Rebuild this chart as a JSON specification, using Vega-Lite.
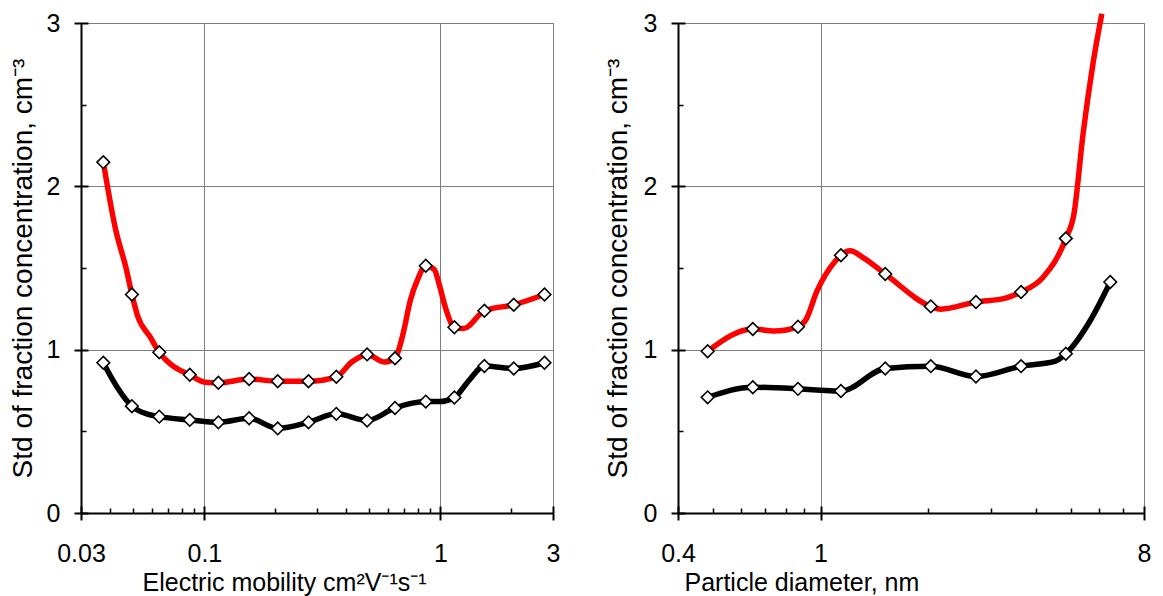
{
  "$schema": "https://vega.github.io/schema/vega-lite/v6.json",
  "padding": {"left": 8, "top": 2, "right": 5, "bottom": 0},
  "spacing": 42,
  "config": {
    "view": {"stroke": "#7f7f7f", "strokeWidth": 1},
    "font": "Liberation Sans",
    "axis": {"labelFont": "Liberation Sans", "titleFont": "Liberation Sans", "labelColor": "black", "titleColor": "black", "titleFontWeight": "normal", "tickColor": "black", "domainColor": "black"}
  },
  "datasets": {
    "L": [
      {"x": 0.0373, "y": 2.148, "s": "red", "m": 1},
      {"x": 0.042, "y": 1.739, "s": "red", "m": 0},
      {"x": 0.0467, "y": 1.492, "s": "red", "m": 0},
      {"x": 0.0493, "y": 1.338, "s": "red", "m": 1},
      {"x": 0.052, "y": 1.211, "s": "red", "m": 0},
      {"x": 0.0589, "y": 1.078, "s": "red", "m": 0},
      {"x": 0.0644, "y": 0.984, "s": "red", "m": 1},
      {"x": 0.073, "y": 0.904, "s": "red", "m": 0},
      {"x": 0.0867, "y": 0.846, "s": "red", "m": 1},
      {"x": 0.1007, "y": 0.801, "s": "red", "m": 0},
      {"x": 0.1146, "y": 0.797, "s": "red", "m": 1},
      {"x": 0.1547, "y": 0.82, "s": "red", "m": 1},
      {"x": 0.2045, "y": 0.807, "s": "red", "m": 1},
      {"x": 0.2761, "y": 0.807, "s": "red", "m": 1},
      {"x": 0.3623, "y": 0.834, "s": "red", "m": 1},
      {"x": 0.421, "y": 0.924, "s": "red", "m": 0},
      {"x": 0.4892, "y": 0.971, "s": "red", "m": 1},
      {"x": 0.58, "y": 0.924, "s": "red", "m": 0},
      {"x": 0.642, "y": 0.947, "s": "red", "m": 1},
      {"x": 0.695, "y": 1.098, "s": "red", "m": 0},
      {"x": 0.746, "y": 1.303, "s": "red", "m": 0},
      {"x": 0.801, "y": 1.43, "s": "red", "m": 0},
      {"x": 0.8668, "y": 1.514, "s": "red", "m": 1},
      {"x": 0.941, "y": 1.492, "s": "red", "m": 0},
      {"x": 0.993, "y": 1.389, "s": "red", "m": 0},
      {"x": 1.048, "y": 1.262, "s": "red", "m": 0},
      {"x": 1.146, "y": 1.137, "s": "red", "m": 1},
      {"x": 1.253, "y": 1.129, "s": "red", "m": 0},
      {"x": 1.536, "y": 1.238, "s": "red", "m": 1},
      {"x": 2.045, "y": 1.275, "s": "red", "m": 1},
      {"x": 2.761, "y": 1.338, "s": "red", "m": 1},
      {"x": 0.0373, "y": 0.92, "s": "black", "m": 1},
      {"x": 0.0427, "y": 0.77, "s": "black", "m": 0},
      {"x": 0.0493, "y": 0.654, "s": "black", "m": 1},
      {"x": 0.0569, "y": 0.607, "s": "black", "m": 0},
      {"x": 0.0644, "y": 0.59, "s": "black", "m": 1},
      {"x": 0.0867, "y": 0.57, "s": "black", "m": 1},
      {"x": 0.1146, "y": 0.555, "s": "black", "m": 1},
      {"x": 0.1547, "y": 0.58, "s": "black", "m": 1},
      {"x": 0.2045, "y": 0.518, "s": "black", "m": 1},
      {"x": 0.2761, "y": 0.555, "s": "black", "m": 1},
      {"x": 0.3623, "y": 0.607, "s": "black", "m": 1},
      {"x": 0.4892, "y": 0.566, "s": "black", "m": 1},
      {"x": 0.642, "y": 0.643, "s": "black", "m": 1},
      {"x": 0.8668, "y": 0.682, "s": "black", "m": 1},
      {"x": 0.99, "y": 0.682, "s": "black", "m": 0},
      {"x": 1.146, "y": 0.707, "s": "black", "m": 1},
      {"x": 1.32, "y": 0.811, "s": "black", "m": 0},
      {"x": 1.536, "y": 0.9, "s": "black", "m": 1},
      {"x": 2.045, "y": 0.885, "s": "black", "m": 1},
      {"x": 2.761, "y": 0.92, "s": "black", "m": 1}
    ],
    "R": [
      {"x": 0.484, "y": 0.99, "s": "red", "m": 1},
      {"x": 0.647, "y": 1.127, "s": "red", "m": 1},
      {"x": 0.743, "y": 1.115, "s": "red", "m": 0},
      {"x": 0.865, "y": 1.14, "s": "red", "m": 1},
      {"x": 0.91, "y": 1.183, "s": "red", "m": 0},
      {"x": 0.977, "y": 1.358, "s": "red", "m": 0},
      {"x": 1.1, "y": 1.543, "s": "red", "m": 0},
      {"x": 1.14, "y": 1.578, "s": "red", "m": 1},
      {"x": 1.21, "y": 1.605, "s": "red", "m": 0},
      {"x": 1.315, "y": 1.564, "s": "red", "m": 0},
      {"x": 1.516, "y": 1.463, "s": "red", "m": 1},
      {"x": 2.032, "y": 1.265, "s": "red", "m": 1},
      {"x": 2.166, "y": 1.248, "s": "red", "m": 0},
      {"x": 2.716, "y": 1.292, "s": "red", "m": 1},
      {"x": 3.285, "y": 1.316, "s": "red", "m": 0},
      {"x": 3.63, "y": 1.353, "s": "red", "m": 1},
      {"x": 4.17, "y": 1.44, "s": "red", "m": 0},
      {"x": 4.84, "y": 1.681, "s": "red", "m": 1},
      {"x": 5.1, "y": 1.831, "s": "red", "m": 0},
      {"x": 5.41, "y": 2.325, "s": "red", "m": 0},
      {"x": 5.75, "y": 2.737, "s": "red", "m": 0},
      {"x": 6.1, "y": 3.056, "s": "red", "m": 0},
      {"x": 0.484, "y": 0.708, "s": "black", "m": 1},
      {"x": 0.647, "y": 0.77, "s": "black", "m": 1},
      {"x": 0.865, "y": 0.76, "s": "black", "m": 1},
      {"x": 1.0, "y": 0.752, "s": "black", "m": 0},
      {"x": 1.14, "y": 0.747, "s": "black", "m": 1},
      {"x": 1.516, "y": 0.885, "s": "black", "m": 1},
      {"x": 2.032, "y": 0.899, "s": "black", "m": 1},
      {"x": 2.716, "y": 0.836, "s": "black", "m": 1},
      {"x": 3.63, "y": 0.899, "s": "black", "m": 1},
      {"x": 4.53, "y": 0.93, "s": "black", "m": 0},
      {"x": 4.84, "y": 0.975, "s": "black", "m": 1},
      {"x": 5.68, "y": 1.183, "s": "black", "m": 0},
      {"x": 6.44, "y": 1.414, "s": "black", "m": 1}
    ]
  },
  "hconcat": [
    {
      "width": 472,
      "height": 490,
      "data": {"name": "L"},
      "resolve": {"axis": {"x": "independent", "y": "independent"}},
      "layer": [
        {
          "transform": [{"filter": "datum.s == 'red'"}],
          "mark": {"type": "line", "interpolate": "monotone", "strokeWidth": 5.5, "color": "#ff0000", "clip": false},
          "encoding": {
            "x": {"field": "x", "type": "quantitative", "scale": {"type": "log", "domain": [0.03, 3], "nice": false},
              "axis": {"orient": "bottom", "values": [0.03, 0.1, 1, 3], "format": "~g", "labelFontSize": 25, "labelPadding": 21, "labelFlush": false, "labelOverlap": false, "tickSize": 7, "tickWidth": 2, "domainWidth": 2, "grid": true, "gridColor": "#7f7f7f", "gridWidth": 1, "title": "Electric mobility cm²V⁻¹s⁻¹", "titleFontSize": 25, "titlePadding": 4, "titleAnchor": "start", "titleAlign": "left", "titleX": 61}},
            "y": {"field": "y", "type": "quantitative", "scale": {"domain": [0, 3], "nice": false, "zero": false},
              "axis": {"orient": "left", "values": [0, 1, 2, 3], "format": "d", "labelFontSize": 25, "labelPadding": 14, "labelFlush": false, "tickSize": 7, "tickWidth": 2, "domainWidth": 2, "grid": true, "gridColor": "#7f7f7f", "gridWidth": 1, "title": "Std of fraction concentration, cm⁻³", "titleFontSize": 28, "titlePadding": 9}}
          }
        },
        {
          "transform": [{"filter": "datum.s == 'black'"}],
          "mark": {"type": "line", "interpolate": "monotone", "strokeWidth": 5.5, "color": "#000000"},
          "encoding": {
            "x": {"field": "x", "type": "quantitative", "axis": {"orient": "bottom", "values": [0.03, 0.1, 1, 3], "labels": false, "tickSize": -7, "tickWidth": 2, "domain": false, "grid": false, "title": null}},
            "y": {"field": "y", "type": "quantitative", "axis": {"orient": "left", "values": [0, 1, 2, 3], "labels": false, "tickSize": -7, "tickWidth": 2, "domain": false, "grid": false, "title": null}}
          }
        },
        {
          "transform": [{"filter": "datum.m == 1"}],
          "mark": {"type": "point", "shape": "diamond", "size": 160, "fill": "white", "stroke": "black", "strokeWidth": 1.6, "opacity": 1, "filled": true},
          "encoding": {
            "x": {"field": "x", "type": "quantitative", "axis": {"orient": "bottom", "values": [0.04, 0.05, 0.06, 0.07, 0.08, 0.09, 0.2, 0.3, 0.4, 0.5, 0.6, 0.7, 0.8, 0.9, 2], "labels": false, "tickSize": -5, "tickWidth": 1.5, "domain": false, "grid": false, "title": null}},
            "y": {"field": "y", "type": "quantitative", "axis": {"orient": "left", "values": [0.5, 1.5, 2.5], "labels": false, "tickSize": -5, "tickWidth": 1.5, "domain": false, "grid": false, "title": null}}
          }
        }
      ]
    },
    {
      "width": 466,
      "height": 490,
      "data": {"name": "R"},
      "resolve": {"axis": {"x": "independent", "y": "independent"}},
      "layer": [
        {
          "transform": [{"filter": "datum.s == 'red'"}],
          "mark": {"type": "line", "interpolate": "monotone", "strokeWidth": 5.5, "color": "#ff0000", "clip": false},
          "encoding": {
            "x": {"field": "x", "type": "quantitative", "scale": {"type": "log", "domain": [0.4, 8], "nice": false},
              "axis": {"orient": "bottom", "values": [0.4, 1, 8], "format": "~g", "labelFontSize": 25, "labelPadding": 21, "labelFlush": false, "labelOverlap": false, "tickSize": 7, "tickWidth": 2, "domainWidth": 2, "grid": true, "gridColor": "#7f7f7f", "gridWidth": 1, "title": "Particle diameter, nm", "titleFontSize": 25, "titlePadding": 4, "titleAnchor": "start", "titleAlign": "left", "titleX": 6}},
            "y": {"field": "y", "type": "quantitative", "scale": {"domain": [0, 3], "nice": false, "zero": false},
              "axis": {"orient": "left", "values": [0, 1, 2, 3], "format": "d", "labelFontSize": 25, "labelPadding": 14, "labelFlush": false, "tickSize": 7, "tickWidth": 2, "domainWidth": 2, "grid": true, "gridColor": "#7f7f7f", "gridWidth": 1, "title": "Std of fraction concentration, cm⁻³", "titleFontSize": 28, "titlePadding": 11}}
          }
        },
        {
          "transform": [{"filter": "datum.s == 'black'"}],
          "mark": {"type": "line", "interpolate": "monotone", "strokeWidth": 5.5, "color": "#000000"},
          "encoding": {
            "x": {"field": "x", "type": "quantitative", "axis": {"orient": "bottom", "values": [0.4, 1, 8], "labels": false, "tickSize": -7, "tickWidth": 2, "domain": false, "grid": false, "title": null}},
            "y": {"field": "y", "type": "quantitative", "axis": {"orient": "left", "values": [0, 1, 2, 3], "labels": false, "tickSize": -7, "tickWidth": 2, "domain": false, "grid": false, "title": null}}
          }
        },
        {
          "transform": [{"filter": "datum.m == 1"}],
          "mark": {"type": "point", "shape": "diamond", "size": 160, "fill": "white", "stroke": "black", "strokeWidth": 1.6, "opacity": 1, "filled": true},
          "encoding": {
            "x": {"field": "x", "type": "quantitative", "axis": {"orient": "bottom", "values": [0.5, 0.6, 0.7, 0.8, 0.9, 2, 3, 4, 5, 6, 7], "labels": false, "tickSize": -5, "tickWidth": 1.5, "domain": false, "grid": false, "title": null}},
            "y": {"field": "y", "type": "quantitative", "axis": {"orient": "left", "values": [0.5, 1.5, 2.5], "labels": false, "tickSize": -5, "tickWidth": 1.5, "domain": false, "grid": false, "title": null}}
          }
        }
      ]
    }
  ]
}
